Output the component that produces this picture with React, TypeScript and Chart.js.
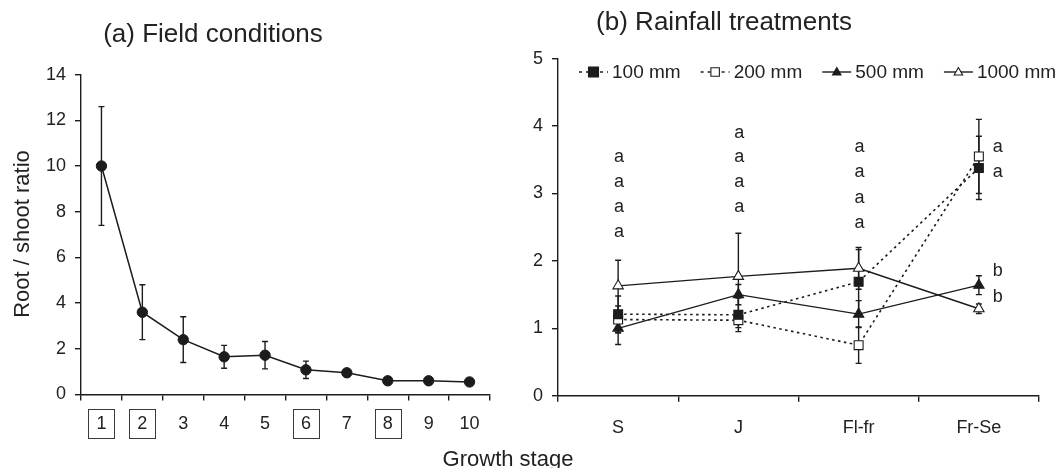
import React, { useEffect, useRef } from "react";
import { Chart, registerables } from "chart.js";

Chart.register(...registerables);

const FONT = '"Liberation Sans", Arial, Helvetica, sans-serif';
const INK = "#1c1c1c";
const TEXT = "#222222";

// ---------- Panel (a) data ----------
const stageLabels = ["1", "2", "3", "4", "5", "6", "7", "8", "9", "10"];
const boxedStages = ["1", "2", "6", "8"];
const fieldRatio = [10.0, 3.6, 2.4, 1.65, 1.72, 1.08, 0.95, 0.6, 0.6, 0.55];
const fieldErr = [2.6, 1.2, 1.0, 0.5, 0.6, 0.38, 0.15, 0.08, 0.08, 0.14];
const yTicksA = { min: 0, max: 14, step: 2 };

// ---------- Panel (b) data ----------
const rainStages = ["S", "J", "Fl-fr", "Fr-Se"];
const seriesNames = ["100 mm", "200 mm", "500 mm", "1000 mm"];
const r100 = [1.21, 1.2, 1.69, 3.38];
const r200 = [1.13, 1.12, 0.75, 3.55];
const r500 = [1.0, 1.5, 1.21, 1.64];
const r1000 = [1.63, 1.77, 1.89, 1.29];
const e100 = [0.27, 0.25, 0.48, 0.47];
const e200 = [0.2, 0.11, 0.27, 0.55];
const e500 = [0.24, 0.15, 0.2, 0.14];
const e1000 = [0.38, 0.64, 0.31, 0.07];
const yTicksB = { min: 0, max: 5, step: 1 };

// significance letters: stage index, value (visual centre), letter
const letterStage = [0, 0, 0, 0, 1, 1, 1, 1, 2, 2, 2, 2, 3, 3, 3, 3];
const letterValue = [3.54, 3.17, 2.8, 2.43, 3.9, 3.53, 3.17, 2.8, 3.68, 3.31, 2.93, 2.56, 3.69, 3.32, 1.84, 1.46];
const letterText = ["a", "a", "a", "a", "a", "a", "a", "a", "a", "a", "a", "a", "a", "a", "b", "b"];

type Marker = { shape: "rect" | "triangle"; filled: boolean; dash: number[] };
const markers: Marker[] = [
  { shape: "rect", filled: true, dash: [2.5, 3.5] },
  { shape: "rect", filled: false, dash: [2.5, 3.5] },
  { shape: "triangle", filled: true, dash: [] },
  { shape: "triangle", filled: false, dash: [] },
];

function drawErrorBars(chart: any, errs: number[][]) {
  const ctx = chart.ctx;
  const xs = chart.scales.x;
  const ys = chart.scales.y;
  ctx.save();
  ctx.strokeStyle = INK;
  ctx.lineWidth = 1.4;
  ctx.setLineDash([]);
  chart.data.datasets.forEach((ds: any, di: number) => {
    const e = errs[di];
    ds.data.forEach((v: number, i: number) => {
      const px = xs.getPixelForValue(i);
      const top = ys.getPixelForValue(v + e[i]);
      const bot = ys.getPixelForValue(v - e[i]);
      ctx.beginPath();
      ctx.moveTo(px, top);
      ctx.lineTo(px, bot);
      ctx.moveTo(px - 3, top);
      ctx.lineTo(px + 3, top);
      ctx.moveTo(px - 3, bot);
      ctx.lineTo(px + 3, bot);
      ctx.stroke();
    });
  });
  ctx.restore();
}

function drawMarker(ctx: CanvasRenderingContext2D, m: Marker, x: number, y: number, size: number) {
  ctx.save();
  ctx.setLineDash([]);
  ctx.lineWidth = 1.1;
  ctx.strokeStyle = INK;
  ctx.fillStyle = m.filled ? INK : "#ffffff";
  ctx.beginPath();
  if (m.shape === "rect") {
    ctx.rect(x - size / 2, y - size / 2, size, size);
  } else {
    const h = size * 0.87;
    ctx.moveTo(x, y - h * 0.6);
    ctx.lineTo(x + size / 2, y + h * 0.4);
    ctx.lineTo(x - size / 2, y + h * 0.4);
    ctx.closePath();
  }
  ctx.fill();
  ctx.stroke();
  ctx.restore();
}

const axisCommon = (size: number, pad: number) => ({
  grid: {
    display: true,
    drawOnChartArea: false,
    drawTicks: true,
    tickLength: 6,
    color: INK,
    lineWidth: 1.4,
  },
  border: { display: true, color: INK, width: 1.4 },
  ticks: {
    color: TEXT,
    font: { family: FONT, size },
    padding: pad,
    maxRotation: 0,
    autoSkip: false,
  },
});

const panelAPlugin = {
  id: "panelA",
  beforeDatasetsDraw(chart: any) {
    drawErrorBars(chart, [fieldErr]);
  },
  afterDraw(chart: any) {
    const ctx = chart.ctx;
    const xs = chart.scales.x;
    ctx.save();
    ctx.fillStyle = TEXT;
    ctx.textAlign = "center";
    ctx.textBaseline = "middle";
    ctx.font = `26px ${FONT}`;
    ctx.fillText("(a) Field conditions", 213, 35);
    ctx.font = `22px ${FONT}`;
    ctx.textBaseline = "alphabetic";
    ctx.fillText("Growth stage", 508, 466);
    ctx.save();
    ctx.translate(29, 234);
    ctx.rotate(-Math.PI / 2);
    ctx.fillText("Root / shoot ratio", 0, 0);
    ctx.restore();
    // boxes round the marked growth stages
    ctx.strokeStyle = "#3a3a3a";
    ctx.lineWidth = 1;
    boxedStages.forEach((s) => {
      const i = stageLabels.indexOf(s);
      const cx = xs.getPixelForValue(i);
      ctx.strokeRect(Math.round(cx - 13) + 0.5, 409.5, 26, 29);
    });
    ctx.restore();
  },
};

const panelBPlugin = {
  id: "panelB",
  beforeDatasetsDraw(chart: any) {
    drawErrorBars(chart, [e100, e200, e500, e1000]);
  },
  afterDraw(chart: any) {
    const ctx = chart.ctx;
    const xs = chart.scales.x;
    const ys = chart.scales.y;
    ctx.save();
    ctx.fillStyle = TEXT;
    ctx.textAlign = "center";
    ctx.textBaseline = "middle";
    ctx.font = `26px ${FONT}`;
    ctx.fillText("(b) Rainfall treatments", 724, 23);

    // legend
    ctx.font = `19px ${FONT}`;
    ctx.textAlign = "left";
    let x = 579;
    const ly = 72;
    seriesNames.forEach((name, i) => {
      const m = markers[i];
      ctx.save();
      ctx.strokeStyle = INK;
      ctx.lineWidth = 1.4;
      ctx.setLineDash(m.dash.length ? [3, 4] : []);
      ctx.beginPath();
      ctx.moveTo(x, ly);
      ctx.lineTo(x + 29, ly);
      ctx.stroke();
      ctx.restore();
      drawMarker(ctx, m, x + 14.5, ly, m.filled && m.shape === "rect" ? 10 : 8.5);
      ctx.fillStyle = TEXT;
      ctx.fillText(name, x + 33, ly + 1);
      x += 33 + ctx.measureText(name).width + 20;
    });

    // significance letters
    ctx.font = `18px ${FONT}`;
    ctx.textAlign = "center";
    ctx.textBaseline = "alphabetic";
    letterText.forEach((t, k) => {
      const si = letterStage[k];
      const off = si === rainStages.length - 1 ? 19 : 1;
      const px = xs.getPixelForValue(si) + off;
      const py = ys.getPixelForValue(letterValue[k]) + 4.7;
      ctx.fillText(t, px, py);
    });
    ctx.restore();
  },
};

export default function App() {
  const refA = useRef<HTMLCanvasElement>(null);
  const refB = useRef<HTMLCanvasElement>(null);

  useEffect(() => {
    const chartA = new Chart(refA.current as HTMLCanvasElement, {
      type: "line",
      data: {
        labels: stageLabels,
        datasets: [
          {
            data: fieldRatio,
            borderColor: INK,
            borderWidth: 1.5,
            pointStyle: "circle",
            pointRadius: 5.2,
            pointBackgroundColor: INK,
            pointBorderColor: INK,
            pointBorderWidth: 1,
            tension: 0,
          },
        ],
      },
      options: {
        responsive: false,
        animation: false,
        devicePixelRatio: 1,
        events: [],
        layout: { padding: { left: 0, top: 74.6, right: 566, bottom: 0 } },
        plugins: { legend: { display: false }, tooltip: { enabled: false } },
        scales: {
          x: {
            type: "category",
            offset: true,
            ...axisCommon(18, 13),
            grid: { ...axisCommon(18, 13).grid, offset: true },
            afterFit: (s: any) => {
              s.height = 468 - 394.5;
            },
          },
          y: {
            min: yTicksA.min,
            max: yTicksA.max,
            ...axisCommon(18, 9),
            ticks: { ...axisCommon(18, 9).ticks, stepSize: yTicksA.step },
            afterFit: (s: any) => {
              s.width = 81;
            },
          },
        },
      } as any,
      plugins: [panelAPlugin as any],
    });

    const seriesData = [r100, r200, r500, r1000];
    const chartB = new Chart(refB.current as HTMLCanvasElement, {
      type: "line",
      data: {
        labels: rainStages,
        datasets: seriesData.map((d, i) => ({
          label: seriesNames[i],
          data: d,
          borderColor: INK,
          borderWidth: markers[i].dash.length ? 1.6 : 1.4,
          borderDash: markers[i].dash,
          pointStyle: markers[i].shape,
          pointRadius: markers[i].shape === "rect" ? 6.3 : 6,
          pointBackgroundColor: markers[i].filled ? INK : "#ffffff",
          pointBorderColor: INK,
          pointBorderWidth: 1.1,
          tension: 0,
        })),
      },
      options: {
        responsive: false,
        animation: false,
        devicePixelRatio: 1,
        events: [],
        layout: { padding: { left: 0, top: 58.7, right: 17, bottom: 0 } },
        plugins: { legend: { display: false }, tooltip: { enabled: false } },
        scales: {
          x: {
            type: "category",
            offset: true,
            ...axisCommon(18, 16),
            grid: { ...axisCommon(18, 16).grid, offset: true },
            afterFit: (s: any) => {
              s.height = 468 - 395.7;
            },
          },
          y: {
            min: yTicksB.min,
            max: yTicksB.max,
            ...axisCommon(18, 9),
            ticks: { ...axisCommon(18, 9).ticks, stepSize: yTicksB.step },
            afterFit: (s: any) => {
              s.width = 558;
            },
          },
        },
      } as any,
      plugins: [panelBPlugin as any],
    });

    return () => {
      chartA.destroy();
      chartB.destroy();
    };
  }, []);

  const canvasStyle: React.CSSProperties = {
    position: "absolute",
    left: 0,
    top: 0,
    width: 1056,
    height: 468,
  };

  return (
    <div
      style={{
        position: "fixed",
        left: 0,
        top: 0,
        width: 1056,
        height: 468,
        background: "#ffffff",
        overflow: "hidden",
      }}
    >
      <canvas ref={refA} width={1056} height={468} style={canvasStyle} />
      <canvas ref={refB} width={1056} height={468} style={canvasStyle} />
    </div>
  );
}
